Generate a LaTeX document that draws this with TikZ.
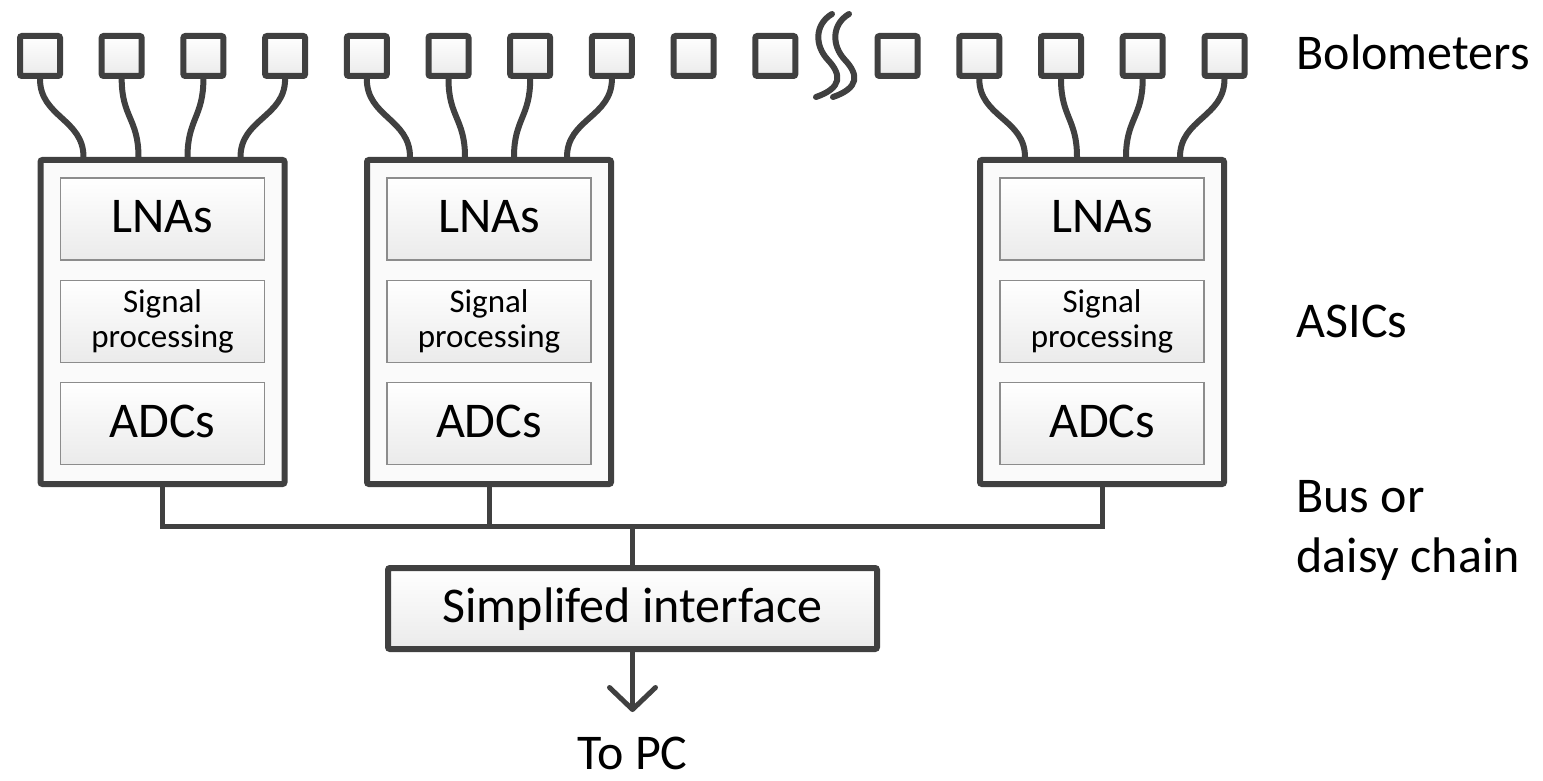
\documentclass[tikz,border=0pt]{standalone}
\usepackage{fontspec}
\setmainfont{Carlito}
\usetikzlibrary{arrows.meta,positioning}
\definecolor{darkline}{HTML}{404040}
\definecolor{boxline}{HTML}{8C8C8C}

\begin{document}
\begin{tikzpicture}[
x=1pt, y=-1pt,
bolo/.style={draw=darkline, line width=6pt, rounded corners=2pt, minimum size=40pt, inner sep=0pt, top color=white, bottom color=black!8},
asic/.style={draw=darkline, line width=6pt, rounded corners=2pt, fill=black!2, minimum width=244pt, minimum height=324pt, inner sep=0pt},
stage/.style={draw=boxline, line width=1.2pt, top color=white, bottom color=black!8, minimum width=204pt, minimum height=82pt, inner sep=0pt},
bigtext/.style={font=\fontsize{50}{60}\selectfont, text height=37pt, text depth=9pt},
smalltext/.style={font=\fontsize{33}{35}\selectfont, align=center},
sidetext/.style={font=\fontsize{50}{60}\selectfont, anchor=base west, align=left},
wire/.style={draw=darkline, line width=6pt, line cap=round},
bus/.style={draw=darkline, line width=5pt}
]
    % keep the page the size of the reference
    \useasboundingbox (0,0) rectangle (1543,781);

    % Bolometers
    \foreach \i/\x in {1/40,2/121.7,3/203.4,4/285.1,5/366.8,6/448.5,7/530.2,8/611.9,9/693.6,10/775.3,
                       11/897.5,12/979.3,13/1061,14/1142.7,15/1224.5}
        \node[bolo] (b\i) at (\x,56) {};

    % break in the row
    \draw[wire] (832,14) .. controls (815,24) and (814,45) .. (828,60)
                         .. controls (842,75) and (842,88) .. (816,97);
    \draw[wire] (849,14) .. controls (832,24) and (831,45) .. (845,60)
                         .. controls (859,75) and (859,88) .. (833,97);

    % ASICs
    \foreach \n/\x in {1/162.5,2/489,3/1102}{
        \node[asic] (a\n) at (\x,322) {};
        \node[stage, bigtext] (lna\n) at (\x,219) {LNAs};
        \node[stage, smalltext] (sp\n) at (\x,321.5) {Signal\\processing};
        \node[stage, bigtext] (adc\n) at (\x,423.5) {ADCs};
    }

    % wires from bolometers to ASICs
    \foreach \a/\b/\o in {1/1/-79,1/2/-24,1/3/25,1/4/78,
                          2/5/-79,2/6/-24,2/7/25,2/8/78,
                          3/12/-77,3/13/-25,3/14/24,3/15/78}
        \draw[wire] (b\b.south) .. controls +(0,38) and +(0,-38) .. ([xshift=\o pt]a\a.north);

    % bus
    \coordinate (busjoin) at (632.5,526);
    \node[asic, bigtext, minimum width=489pt, minimum height=81pt, fill=none,
          top color=white, bottom color=black!8] (iface) at (632.5,608.5) {Simplifed interface};
    \draw[bus] (a1.south) |- (busjoin) -| (a3.south);
    \draw[bus] (a2.south) -- (a2.south |- busjoin);
    \draw[bus] (busjoin) -- (iface.north);

    % out to the PC
    \coordinate (pctip) at (632.5,712);
    \draw[bus, -{Straight Barb[length=22pt, width=46pt, round]}] (iface.south) -- (pctip);
    \node[font=\fontsize{50}{60}\selectfont, anchor=base, inner sep=0pt, text depth=0pt] (topc) at (632.5,769) {To PC};

    % labels on the right
    \node[sidetext] (lbolo) at (1293,70) {Bolometers};
    \node[sidetext] (lasic) at (1293,337) {ASICs};
    \node[sidetext] (lbus) at (1293,572) {Bus or\\daisy chain};

\end{tikzpicture}
\end{document}
